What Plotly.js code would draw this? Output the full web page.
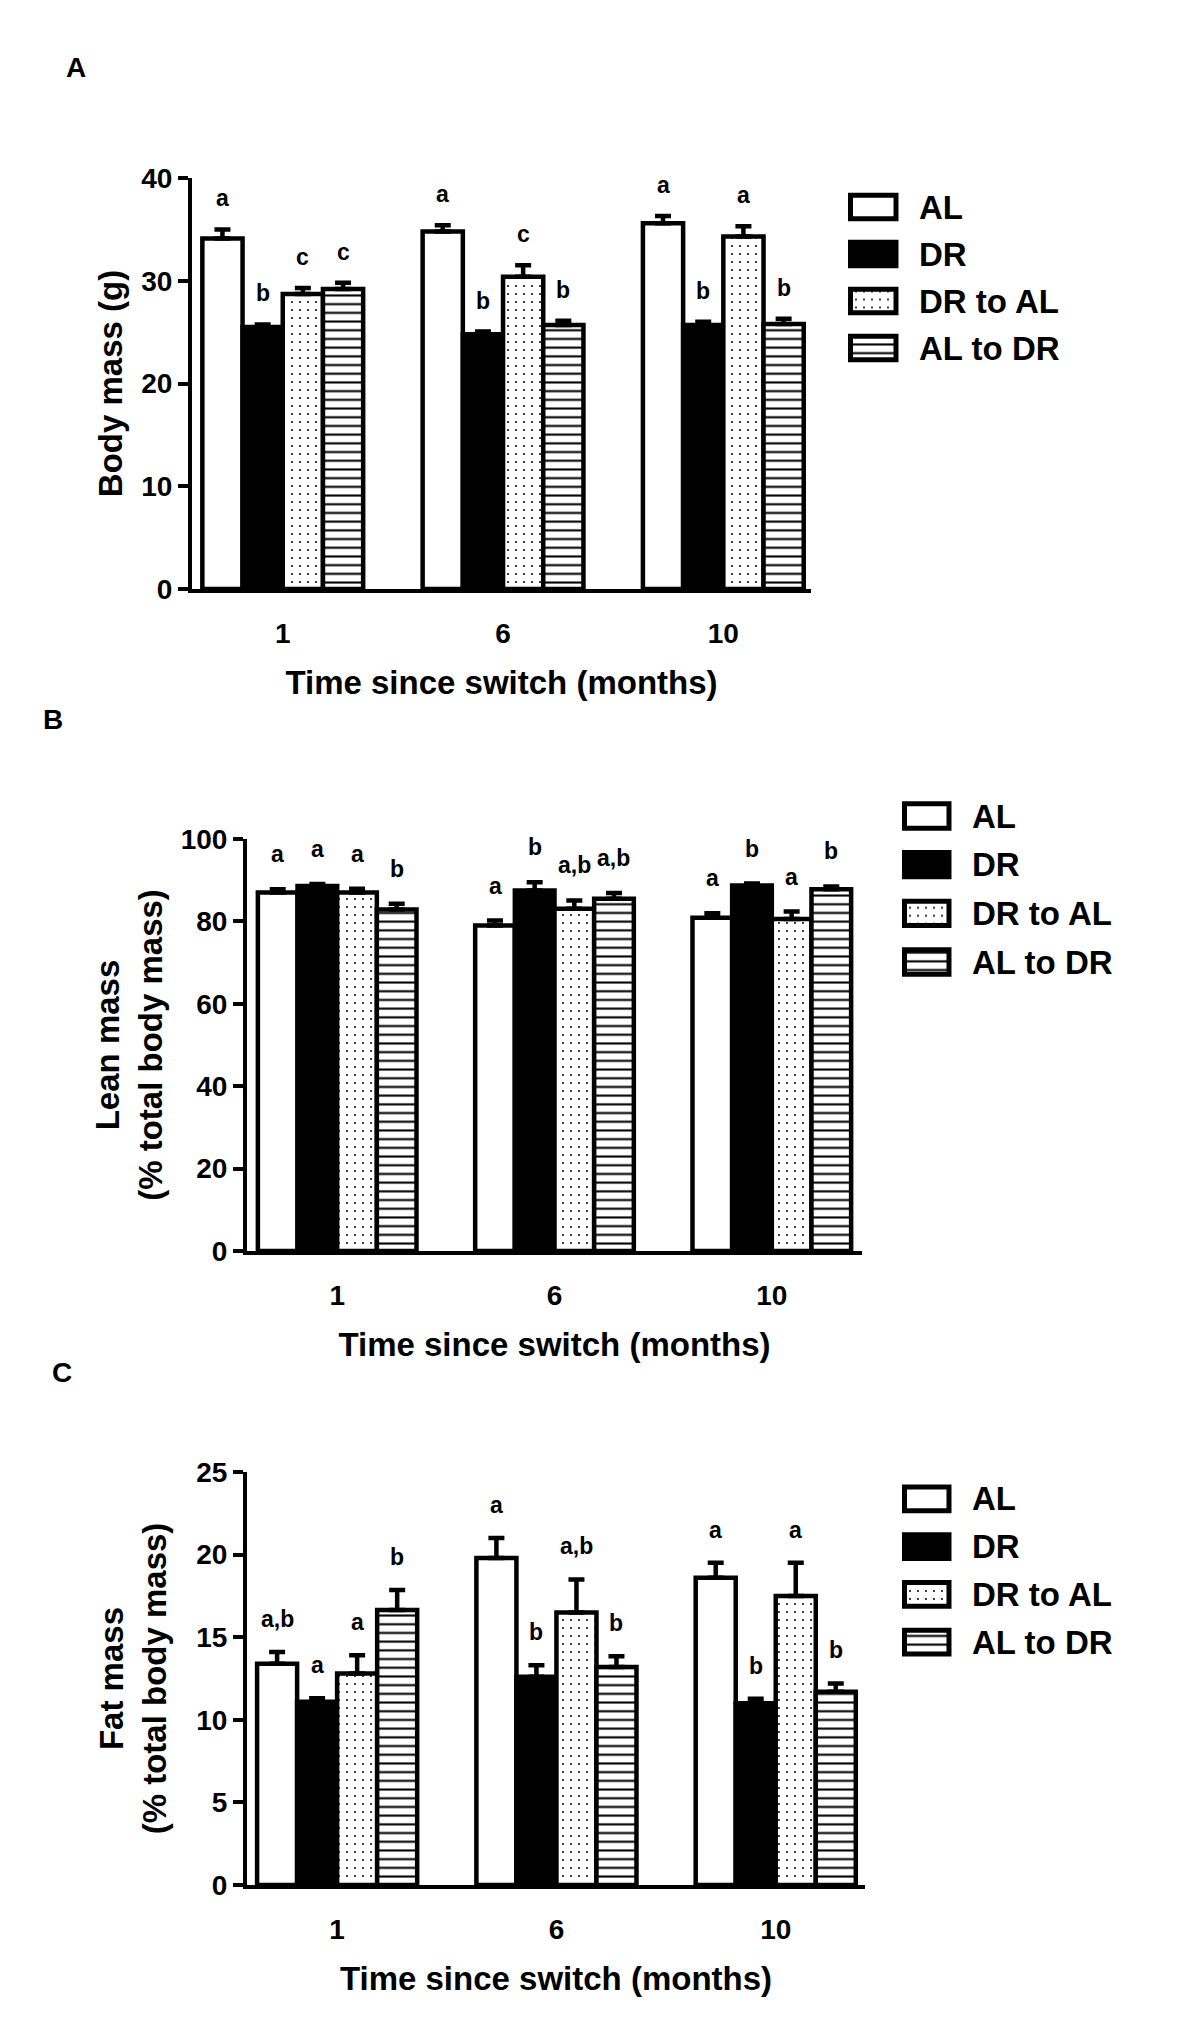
<!DOCTYPE html>
<html>
<head>
<meta charset="utf-8">
<script src="https://cdn.plot.ly/plotly-3.0.1.min.js"></script>
<style>
  html, body { margin: 0; padding: 0; background: #ffffff; }
  #chart { width: 1200px; height: 2022px; }
</style>
</head>
<body>
<div id="chart"></div>
<script>
// ---------------- DATA ----------------
const timePoints = ['1', '6', '10'];
const groupNames = ['AL', 'DR', 'DR to AL', 'AL to DR'];

// Panel A: body mass (g); rows = AL, DR, DR to AL, AL to DR; columns = 1, 6, 10 months
const bodyMassMean = [
  [34.1, 34.8, 35.6],
  [25.5, 24.8, 25.7],
  [28.7, 30.4, 34.3],
  [29.2, 25.7, 25.8]
];
const bodyMassSEM = [
  [0.9, 0.6, 0.7],
  [0.25, 0.25, 0.3],
  [0.6, 1.1, 1.0],
  [0.6, 0.4, 0.5]
];
const bodyMassLetters = [
  ['a', 'a', 'a'],
  ['b', 'b', 'b'],
  ['c', 'c', 'a'],
  ['c', 'b', 'b']
];

// Panel B: lean mass (% total body mass)
const leanMassMean = [
  [87.0, 79.0, 80.9],
  [88.6, 87.5, 88.7],
  [87.0, 83.1, 80.6],
  [82.9, 85.5, 87.8]
];
const leanMassSEM = [
  [0.8, 1.2, 1.1],
  [0.5, 2.0, 0.5],
  [0.9, 2.0, 1.8],
  [1.4, 1.4, 0.7]
];
const leanMassLetters = [
  ['a', 'a', 'a'],
  ['a', 'b', 'b'],
  ['a', 'a,b', 'a'],
  ['b', 'a,b', 'b']
];

// Panel C: fat mass (% total body mass)
const fatMassMean = [
  [13.4, 19.8, 18.6],
  [11.1, 12.6, 11.0],
  [12.8, 16.5, 17.5],
  [16.65, 13.2, 11.7]
];
const fatMassSEM = [
  [0.7, 1.2, 0.9],
  [0.2, 0.7, 0.27],
  [1.1, 2.0, 2.0],
  [1.2, 0.65, 0.5]
];
const fatMassLetters = [
  ['a,b', 'a', 'a'],
  ['a', 'b', 'b'],
  ['a', 'a,b', 'a'],
  ['b', 'b', 'b']
];

const panelLetters = ['A', 'B', 'C'];
const yTitles = ['Body mass (g)', 'Lean mass<br>(% total body mass)', 'Fat mass<br>(% total body mass)'];
const xTitle = 'Time since switch (months)';

// ---------------- STYLE ----------------
const FONT = 'Liberation Sans, Arial, Helvetica, sans-serif';
const W = 1200, H = 2022;
const fx = p => p / W;
const fy = p => 1 - p / H;

const fills = ['#ffffff', '#000000', '#ffffff', '#ffffff'];
const patShapes = ['', '', '.', '-'];
const patSizes = [8, 8, 8, 8.7];
const patSolid = [0.2, 0.2, 0.05, 0.24];
const BARGAP = 0.27;
const LINEW = 4.5;

const panels = [
  { mean: bodyMassMean, sem: bodyMassSEM, letters: bodyMassLetters,
    xd: [192, 811], yd: [589, 178], xr: [-0.412, 2.398], yr: [0, 40], dtick: 10,
    letterShift: 31, yStandoff: 10,
    leg: { xd: [844, 902], xr: [-0.143, 1.132], yd: [183.5, 371.5] },
    label: { x: 76, y: 67 } },
  { mean: leanMassMean, sem: leanMassSEM, letters: leanMassLetters,
    xd: [247, 862], yd: [1251, 839], xr: [-0.415, 2.415], yr: [0, 100], dtick: 20,
    letterShift: 35, yStandoff: 9,
    leg: { xd: [898, 955], xr: [-0.146, 1.135], yd: [791.7, 986.3] },
    label: { x: 53, y: 719 } },
  { mean: fatMassMean, sem: fatMassSEM, letters: fatMassLetters,
    xd: [247, 865], yd: [1885, 1472], xr: [-0.411, 2.407], yr: [0, 25], dtick: 5,
    letterShift: 33, yStandoff: 21,
    leg: { xd: [898, 955], xr: [-0.146, 1.135], yd: [1475, 1666] },
    label: { x: 62, y: 1372 } }
];

const traces = [];
const annotations = [];
const layout = {
  width: W, height: H,
  margin: { l: 0, r: 0, t: 0, b: 0 },
  paper_bgcolor: '#ffffff', plot_bgcolor: 'rgba(0,0,0,0)',
  showlegend: false,
  barmode: 'group', bargap: BARGAP, bargroupgap: 0,
  font: { family: FONT, color: '#000000' },
  annotations: annotations
};

const nG = groupNames.length;
const bw = (1 - BARGAP) / nG;

function barMarker(i, lw) {
  return {
    color: fills[i],
    line: { color: '#000000', width: lw },
    pattern: { shape: patShapes[i], size: patSizes[i], solidity: patSolid[i],
               fgcolor: '#000000', bgcolor: fills[i], fillmode: 'replace' }
  };
}

panels.forEach((p, k) => {
  const sx = k === 0 ? '' : String(k + 1);          // main axes: x, x2, x3
  const lx = String(k + 4);                           // legend axes: x4, x5, x6

  for (let i = 0; i < nG; i++) {
    traces.push({
      type: 'bar', name: groupNames[i],
      x: timePoints, y: p.mean[i],
      xaxis: 'x' + sx, yaxis: 'y' + sx,
      hoverinfo: 'skip',
      marker: barMarker(i, LINEW),
      error_y: { type: 'data', symmetric: false, array: p.sem[i],
                 arrayminus: p.sem[i].map(() => 0),
                 color: '#000000', thickness: 4.5, width: 8 }
    });
    // significance letters above each error bar
    const off = -(1 - BARGAP) / 2 + bw * (i + 0.5);
    timePoints.forEach((t, j) => {
      annotations.push({
        xref: 'x' + sx, yref: 'y' + sx,
        x: j + off, y: p.mean[i][j] + p.sem[i][j],
        yanchor: 'middle', yshift: p.letterShift,
        text: p.letters[i][j], showarrow: false,
        font: { family: FONT, size: 23, weight: 'bold', color: '#000000' }
      });
    });

    // legend swatch: one horizontal bar per group
    traces.push({
      type: 'bar', orientation: 'h', name: groupNames[i],
      y: [groupNames[i]], x: [1], width: 0.5, offsetgroup: 'legend',
      xaxis: 'x' + lx, yaxis: 'y' + lx,
      hoverinfo: 'skip',
      marker: barMarker(i, 5)
    });
  }

  // main axes
  layout['xaxis' + sx] = {
    domain: [fx(p.xd[0]), fx(p.xd[1])], anchor: 'y' + sx,
    type: 'category', range: p.xr, fixedrange: true,
    showline: true, linecolor: '#000000', linewidth: 4,
    ticks: '', showgrid: false, zeroline: false,
    ticklabelstandoff: 16,
    tickfont: { family: FONT, size: 28, weight: 'bold', color: '#000000' },
    title: { text: xTitle, standoff: 24,
             font: { family: FONT, size: 33, weight: 'bold', color: '#000000' } }
  };
  layout['yaxis' + sx] = {
    domain: [fy(p.yd[0]), fy(p.yd[1])], anchor: 'x' + sx,
    range: p.yr, dtick: p.dtick, tick0: 0, fixedrange: true,
    showline: true, linecolor: '#000000', linewidth: 4,
    ticks: 'outside', ticklen: 10, tickwidth: 4, tickcolor: '#000000',
    showgrid: false, zeroline: false,
    tickfont: { family: FONT, size: 28, weight: 'bold', color: '#000000' },
    title: { text: yTitles[k], standoff: p.yStandoff,
             font: { family: FONT, size: 33, weight: 'bold', color: '#000000' } }
  };

  // legend axes
  layout['xaxis' + lx] = {
    domain: [fx(p.leg.xd[0]), fx(p.leg.xd[1])], anchor: 'y' + lx,
    range: p.leg.xr, visible: false, fixedrange: true
  };
  layout['yaxis' + lx] = {
    domain: [fy(p.leg.yd[1]), fy(p.leg.yd[0])], anchor: 'x' + lx,
    type: 'category', categoryorder: 'array', categoryarray: groupNames,
    range: [3.5, -0.5], side: 'right', fixedrange: true,
    showline: false, showgrid: false, zeroline: false, ticks: '',
    ticklabelstandoff: 16,
    tickfont: { family: FONT, size: 33, weight: 'bold', color: '#000000' }
  };

  // panel letter
  annotations.push({
    xref: 'paper', yref: 'paper', x: fx(p.label.x), y: fy(p.label.y),
    xanchor: 'center', yanchor: 'middle', showarrow: false,
    text: panelLetters[k],
    font: { family: FONT, size: 28, weight: 'bold', color: '#000000' }
  });
});

Plotly.newPlot('chart', traces, layout, { staticPlot: true, displayModeBar: false });
</script>
</body>
</html>
